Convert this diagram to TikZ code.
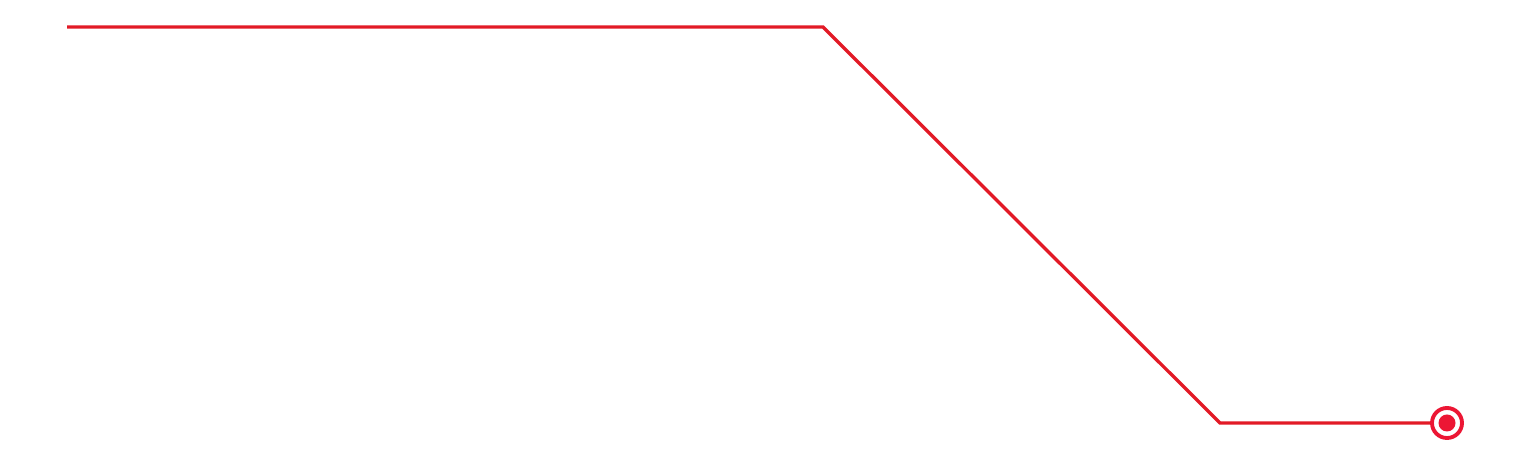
\documentclass[tikz,border=0pt]{standalone}
\usetikzlibrary{positioning}
\definecolor{rosso}{RGB}{226,26,38}
\definecolor{rossopunto}{RGB}{236,22,52}
\begin{document}
\begin{tikzpicture}[x=0.01cm,y=0.01cm,
	percorso/.style={rosso, line width=0.95pt, line join=miter},
	anello/.style={circle, draw=rossopunto, line width=1.1pt, fill=white, minimum size=0.30cm, inner sep=0pt},
	punto/.style={circle, fill=rossopunto, minimum size=0.17cm, inner sep=0pt},
	]
	% ── Riquadro ──
	\useasboundingbox (0,0) rectangle (1520,458);
	% ── Punti del percorso ──
	\coordinate (inizio) at (67,431);
	\coordinate (gomitoA) at (823,431);
	\coordinate (gomitoB) at (1220,35);
	% ── Traguardo ──
	\node[anello] (traguardo) at (1447,35) {};
	\node[punto] (centro) at (traguardo.center) {};
	% ── Linea ──
	\draw[percorso] (inizio) -- (gomitoA) -- (gomitoB) -- (traguardo);
\end{tikzpicture}
\end{document}
